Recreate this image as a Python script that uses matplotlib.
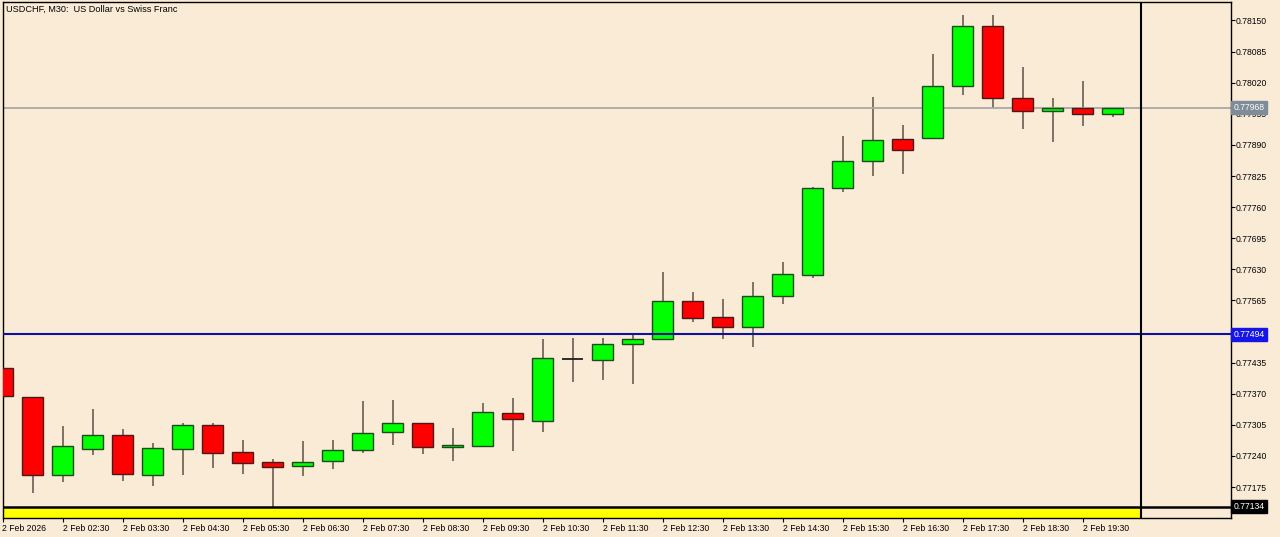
import matplotlib
matplotlib.use("Agg")
import matplotlib.pyplot as plt

# USDCHF M30 candles, 2 Feb 2026 01:30 .. 20:00
opens = [0.77424, 0.77363, 0.77200, 0.77254, 0.77284, 0.77200, 0.77254, 0.77305,
         0.77248, 0.77227, 0.77219, 0.77229, 0.77252, 0.77290, 0.77309, 0.77259,
         0.77261, 0.77330, 0.77313, 0.77443, 0.77440, 0.77474, 0.77484, 0.77564,
         0.77530, 0.77509, 0.77574, 0.77618, 0.77800, 0.77856, 0.77902, 0.77904,
         0.78013, 0.78139, 0.77988, 0.77961, 0.77967, 0.77955]
highs = [0.77424, 0.77363, 0.77303, 0.77338, 0.77296, 0.77267, 0.77309, 0.77309,
         0.77273, 0.77234, 0.77271, 0.77273, 0.77355, 0.77357, 0.77309, 0.77298,
         0.77351, 0.77361, 0.77484, 0.77486, 0.77486, 0.77495, 0.77624, 0.77583,
         0.77568, 0.77603, 0.77645, 0.77802, 0.77909, 0.77990, 0.77932, 0.78080,
         0.78162, 0.78162, 0.78053, 0.77988, 0.78024, 0.77968]
lows = [0.77365, 0.77162, 0.77185, 0.77242, 0.77188, 0.77177, 0.77200, 0.77215,
        0.77202, 0.77131, 0.77198, 0.77213, 0.77246, 0.77263, 0.77244, 0.77229,
        0.77259, 0.77250, 0.77290, 0.77394, 0.77399, 0.77390, 0.77484, 0.77520,
        0.77484, 0.77468, 0.77557, 0.77612, 0.77792, 0.77825, 0.77829, 0.77904,
        0.77994, 0.77967, 0.77923, 0.77896, 0.77930, 0.77948]
closes = [0.77365, 0.77200, 0.77261, 0.77284, 0.77202, 0.77257, 0.77305, 0.77246,
          0.77225, 0.77217, 0.77227, 0.77252, 0.77288, 0.77309, 0.77259, 0.77263,
          0.77332, 0.77317, 0.77445, 0.77443, 0.77474, 0.77484, 0.77564, 0.77528,
          0.77509, 0.77574, 0.77620, 0.77800, 0.77856, 0.77900, 0.77879, 0.78013,
          0.78139, 0.77988, 0.77961, 0.77967, 0.77955, 0.77968]

x_tick_pos = list(range(0, 38, 2))
x_tick_labels = ["2 Feb 2026"] + ["2 Feb %02d:30" % h for h in range(2, 20)]

y_ticks = [0.78150, 0.78085, 0.78020, 0.77955, 0.77890, 0.77825, 0.77760, 0.77695,
           0.77630, 0.77565, 0.77435, 0.77370, 0.77305, 0.77240, 0.77175]

bid_price = 0.77968
blue_level = 0.77494
black_level = 0.77134
vline_pos = 37.95

bg = "#FAEBD7"
plt.rcParams["font.family"] = ["Liberation Sans", "DejaVu Sans"]

fig = plt.figure(figsize=(12.8, 5.37), dpi=100, facecolor=bg)
ax = fig.add_axes([2.5 / 1280, 1 - 517.5 / 537, 1228 / 1280, 516 / 537])
ax.set_facecolor(bg)
ax.set_xlim(0, 40.93)
ax.set_ylim(0.771113, 0.781897)

# yellow zone below the black level, up to the vertical line
ax.fill_between([0, vline_pos], 0.771113, black_level, color="#FFFF00", lw=0, zorder=1)

# candles
for i in range(len(opens)):
    o, h, l, c = opens[i], highs[i], lows[i], closes[i]
    ax.vlines(i, l, h, color="#6b5d50", lw=1.2, zorder=2)
    if o == c:
        ax.hlines(o, i - 0.35, i + 0.35, color="#202020", lw=1.3, zorder=3)
    elif c > o:
        ax.bar(i, c - o, bottom=o, width=0.7, color="#00FF00",
               edgecolor="#1f4a1f", lw=1, zorder=3)
    else:
        ax.bar(i, o - c, bottom=c, width=0.7, color="#FF0000",
               edgecolor="#4a1a1a", lw=1, zorder=3)

ax.axhline(bid_price, color="#A8A8A8", lw=1.3, zorder=2.5)
ax.axhline(blue_level, color="#1010A0", lw=1.5, zorder=4)
ax.axhline(black_level, color="black", lw=1.8, zorder=4)
ax.axvline(vline_pos, color="black", lw=1.5, zorder=4)

for s in ax.spines.values():
    s.set_color("black")
    s.set_linewidth(1)

ax.yaxis.tick_right()
ax.set_yticks(y_ticks)
ax.set_yticklabels(["%.5f" % v for v in y_ticks])
ax.tick_params(axis="y", direction="out", length=3, pad=1, labelsize=6.2, colors="black")
ax.set_xticks(x_tick_pos)
ax.set_xticklabels(x_tick_labels)
ax.tick_params(axis="x", direction="out", length=3, pad=2, labelsize=6.2, colors="black")
for lab in ax.get_xticklabels():
    lab.set_horizontalalignment("left")

# price tags on the right scale
tr = ax.get_yaxis_transform()
for price, col in [(bid_price, "#7E8B98"), (blue_level, "#1515E6"), (black_level, "black")]:
    ax.text(1.0025, price, "%.5f" % price, transform=tr, fontsize=6.2, color="white",
            ha="left", va="center", zorder=6, clip_on=False,
            bbox=dict(boxstyle="square,pad=0.25", fc=col, ec=col))

fig.text(6 / 1280, 1 - 9 / 537, "USDCHF, M30:  US Dollar vs Swiss Franc",
         fontsize=6.6, ha="left", va="center", color="black")

fig.savefig("out.png", dpi=100, facecolor=bg)
